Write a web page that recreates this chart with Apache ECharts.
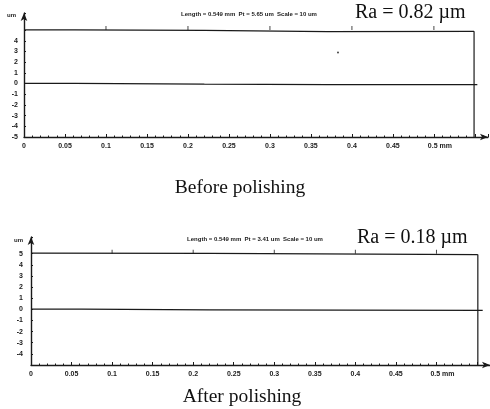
<!DOCTYPE html>
<html>
<head>
<meta charset="utf-8">
<style>
  html, body { margin: 0; padding: 0; background: #fff; }
  #chart { width: 490px; height: 409px; }
</style>
<script src="https://cdn.jsdelivr.net/npm/echarts@6/dist/echarts.min.js"></script>
</head>
<body>
<div id="chart"></div>
<script>
// profile traces (x in mm, y in um)
const topFrameBefore = [[0, 5.02], [0.062, 5.02], [0.063, 4.97], [0.22, 4.97], [0.221, 4.86], [0.37, 4.86], [0.371, 4.89], [0.549, 4.89]];
const profileBefore = [[0, 0.02], [0.062, 0.02], [0.063, -0.06], [0.22, -0.06], [0.221, -0.12], [0.37, -0.1], [0.553, -0.1]];
const rightEdgeBefore = [[0.549, 4.89], [0.549, -5]];
const spotBefore = [[0.383, 2.9]];

const topFrameAfter = [[0, 5.06], [0.22, 5.02], [0.221, 4.95], [0.551, 4.92]];
const profileAfter = [[0, 0.02], [0.062, 0.02], [0.063, -0.05], [0.22, -0.05], [0.221, -0.12], [0.557, -0.1]];
const rightEdgeAfter = [[0.551, 4.92], [0.551, -5]];

const frameTickX = [0.1, 0.2, 0.3, 0.4, 0.5];
const headerBefore = 'Length = 0.549 mm  Pt = 5.65 um  Scale = 10 um';
const headerAfter = 'Length = 0.549 mm  Pt = 3.41 um  Scale = 10 um';
const raBefore = 'Ra = 0.82 \u00b5m';
const raAfter = 'Ra = 0.18 \u00b5m';
const captionBefore = 'Before polishing';
const captionAfter = 'After polishing';

const ink = '#1a1a1a';
const axisFont = { color: ink, fontSize: 7, fontWeight: 'bold', fontFamily: 'Liberation Sans' };
const serif = { color: '#111', fontWeight: 'normal', fontFamily: 'Liberation Serif' };

const chart = echarts.init(document.getElementById('chart'), null, { renderer: 'canvas' });

function makeX(gridIndex) {
  return {
    gridIndex,
    type: 'value',
    min: 0,
    max: 0.566,
    interval: 0.05,
    axisLine: {
      show: true,
      onZero: false,
      symbol: ['none', 'arrow'],
      symbolSize: [5, 8],
      lineStyle: { color: ink, width: 1.3 }
    },
    axisTick: { show: true, inside: true, length: 3, lineStyle: { color: ink } },
    minorTick: { show: true, splitNumber: 5, length: 1.5, lineStyle: { color: ink } },
    splitLine: { show: false },
    axisLabel: {
      ...axisFont,
      margin: 6,
      showMaxLabel: false,
      formatter: (v) => {
        const r = Math.round(v * 100) / 100;
        if (r > 0.5) return '';
        if (r === 0.5) return '{p| }0.5 mm';
        return String(r);
      },
      rich: { p: { width: 12 } }
    }
  };
}

function makeY(gridIndex, maxLabel, minLabel, nameGap) {
  return {
    gridIndex,
    type: 'value',
    min: -5,
    max: gridIndex === 0 ? 6.6 : 6.5,
    interval: 1,
    name: 'um',
    nameLocation: 'end',
    nameGap,
    nameTextStyle: { ...axisFont, fontSize: 6, align: 'right', verticalAlign: 'middle', padding: [0, 8, 0, 0] },
    axisLine: {
      show: true,
      onZero: false,
      symbol: ['none', 'arrow'],
      symbolSize: [5, 8],
      lineStyle: { color: ink, width: 1.4 }
    },
    axisTick: { show: true, inside: true, length: 2, lineStyle: { color: ink } },
    splitLine: { show: false },
    axisLabel: {
      ...axisFont,
      margin: gridIndex === 0 ? 6 : 8,
      formatter: (v) => (v > maxLabel || v < minLabel ? '' : String(v))
    }
  };
}

function traceSeries(data, idx, width) {
  return {
    type: 'line',
    xAxisIndex: idx,
    yAxisIndex: idx,
    data,
    symbol: 'none',
    silent: true,
    animation: false,
    lineStyle: { color: ink, width: width || 1.2 }
  };
}

function frameTicks(idx) {
  return {
    type: 'scatter',
    xAxisIndex: idx,
    yAxisIndex: idx,
    data: frameTickX.map((x) => [x, 5]),
    symbol: 'rect',
    symbolSize: [1, 4],
    symbolOffset: [0, -2],
    itemStyle: { color: ink },
    silent: true,
    animation: false
  };
}

const option = {
  backgroundColor: '#fff',
  animation: false,
  title: [
    { text: headerBefore, left: 249, top: 11, padding: 0, textAlign: 'center',
      textStyle: { ...axisFont, fontSize: 6 } },
    { text: raBefore, left: 355, top: 3, padding: 0,
      textStyle: { ...serif, fontSize: 20 } },
    { text: captionBefore, left: 240, top: 178, padding: 0, textAlign: 'center',
      textStyle: { ...serif, fontSize: 19.5 } },
    { text: headerAfter, left: 255, top: 236, padding: 0, textAlign: 'center',
      textStyle: { ...axisFont, fontSize: 6 } },
    { text: raAfter, left: 357, top: 228, padding: 0,
      textStyle: { ...serif, fontSize: 20 } },
    { text: captionAfter, left: 242, top: 387, padding: 0, textAlign: 'center',
      textStyle: { ...serif, fontSize: 19.5 } }
  ],
  grid: [
    { left: 24, top: 13, width: 464, height: 124 },
    { left: 31, top: 237, width: 459, height: 128 }
  ],
  xAxis: [makeX(0), makeX(1)],
  yAxis: [makeY(0, 4, -5, -2), makeY(1, 5, -4, -3)],
  series: [
    traceSeries(topFrameBefore, 0),
    traceSeries(profileBefore, 0),
    traceSeries(rightEdgeBefore, 0),
    frameTicks(0),
    {
      type: 'scatter',
      xAxisIndex: 0,
      yAxisIndex: 0,
      data: spotBefore,
      symbolSize: 2,
      itemStyle: { color: ink },
      silent: true,
      animation: false
    },
    traceSeries(topFrameAfter, 1),
    traceSeries(profileAfter, 1),
    traceSeries(rightEdgeAfter, 1),
    frameTicks(1)
  ]
};

chart.setOption(option);
</script>
</body>
</html>
